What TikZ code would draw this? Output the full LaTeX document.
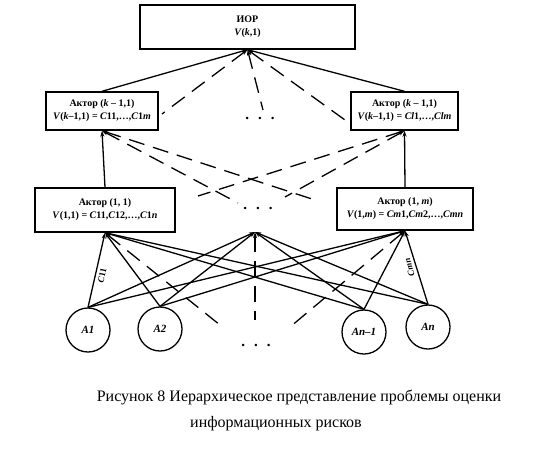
\documentclass[tikz,border=0pt]{standalone}
\usepackage{fontspec}
\setmainfont{Liberation Serif}
\usetikzlibrary{arrows.meta,positioning,calc}

\tikzset{
  actor/.style={draw, line width=1.4pt, inner sep=0pt, align=center,
    font=\bfseries\fontsize{10}{13}\selectfont},
  altern/.style={draw, circle, line width=1.3pt, minimum size=44pt, inner sep=0pt,
    font=\bfseries\itshape\fontsize{11}{13}\selectfont},
  link/.style={line width=1.3pt, {Stealth[length=6pt,width=4pt]}-},
  dlink/.style={link, dash pattern=on 16pt off 9pt},
  dotrow/.style={font=\bfseries\fontsize{15}{15}\selectfont},
  clabel/.style={font=\bfseries\fontsize{9}{10}\selectfont, inner sep=0pt}
}

\begin{document}
\begin{tikzpicture}[x=1pt,y=-1pt]
    \useasboundingbox (0,0) rectangle (534,460);

    % Top level
    \node[actor, minimum width=215pt, minimum height=44pt] (ior) at (247.5,27)
        {ИОР\\\textit{V}(\textit{k},1)};

    % Level k-1
    \node[actor, minimum width=112pt, minimum height=38pt] (actL) at (102,111)
        {Актор (\textit{k} – 1,1)\\\textit{V}(\textit{k}–1,1) = \textit{C}11,…,\textit{C}1\textit{m}};
    \node[actor, minimum width=107pt, minimum height=38pt] (actR) at (404.5,111)
        {Актор (\textit{k} – 1,1)\\\textit{V}(\textit{k}–1,1) = \textit{Cl}1,…,\textit{Clm}};
    \node[dotrow] (dotsT) at (260,118) {.\hspace{9pt}.\hspace{9pt}.};

    % Level 1
    \node[actor, minimum width=140pt, minimum height=44pt] (act11) at (105,210)
        {Актор (1, 1)\\\textit{V}(1,1) = \textit{C}11,\textit{C}12,…,\textit{C}1\textit{n}};
    \node[actor, minimum width=136pt, minimum height=42pt] (act1m) at (405,209)
        {Актор (1, \textit{m})\\\textit{V}(1,\textit{m}) = \textit{Cm}1,\textit{Cm}2,…,\textit{Cmn}};
    \node[dotrow] (dotsM) at (258,208) {.\hspace{9pt}.\hspace{9pt}.};
    \coordinate (midA) at (255,232);

    % Alternatives
    \node[altern] (A1) at (88,330) {A1};
    \node[altern] (A2) at (160,329) {A2};
    \node[altern] (An1) at (364,332) {An–1};
    \node[altern] (An) at (428,327) {An};
    \node[dotrow] (dotsB) at (256,345) {.\hspace{9pt}.\hspace{9pt}.};

    % Free ends of the dashed links
    \coordinate (eTL) at (162,114);
    \coordinate (eTC) at (263,110);
    \coordinate (eTR) at (345,120);
    \coordinate (eLA) at (312,199);
    \coordinate (eLB) at (238,203);
    \coordinate (eRC) at (198,196);
    \coordinate (eRD) at (285,197);
    \coordinate (eBL) at (220,325);
    \coordinate (eBC) at (255,320);
    \coordinate (eBR) at (290,327);

    % Links from level k-1 to the top
    \draw[link] (ior.south) -- (actL.north);
    \draw[link] (ior.south) -- (actR.north);
    \foreach \e in {eTL,eTC,eTR}
        \draw[dlink] (ior.south) -- (\e);

    % Links from level 1 to level k-1
    \draw[link] (actL.south) -- (act11.north);
    \draw[link] (actR.south) -- (act1m.north);
    \draw[dlink] (actL.south) -- (eLA);
    \draw[dlink] (actL.south) -- (eLB);
    \draw[dlink] (actR.south) -- (eRC);
    \draw[dlink] (actR.south) -- (eRD);

    % Links from the alternatives to level 1
    \foreach \u in {act11.south,midA,act1m.south}
        \foreach \a in {A1,A2,An1,An}
            \draw[link] (\u) -- (\a.north);
    \draw[dlink] (act11.south) -- (eBL);
    \draw[dlink] (midA) -- (eBC);
    \draw[dlink] (act1m.south) -- (eBR);

    % Labels of the outer links
    \path (act11.south) -- (A1.north) node[clabel, pos=0.58, xshift=7pt, rotate=77] {\textit{C}11};
    \path (act1m.south) -- (An.north) node[clabel, pos=0.5, xshift=-7pt, rotate=107] {\textit{Cmn}};

    % Caption
    \node[font=\fontsize{16}{18}\selectfont] (cap1) at (299,397)
        {Рисунок 8 Иерархическое представление проблемы оценки};
    \node[font=\fontsize{16}{18}\selectfont] (cap2) at (276,424)
        {информационных рисков};
\end{tikzpicture}
\end{document}
